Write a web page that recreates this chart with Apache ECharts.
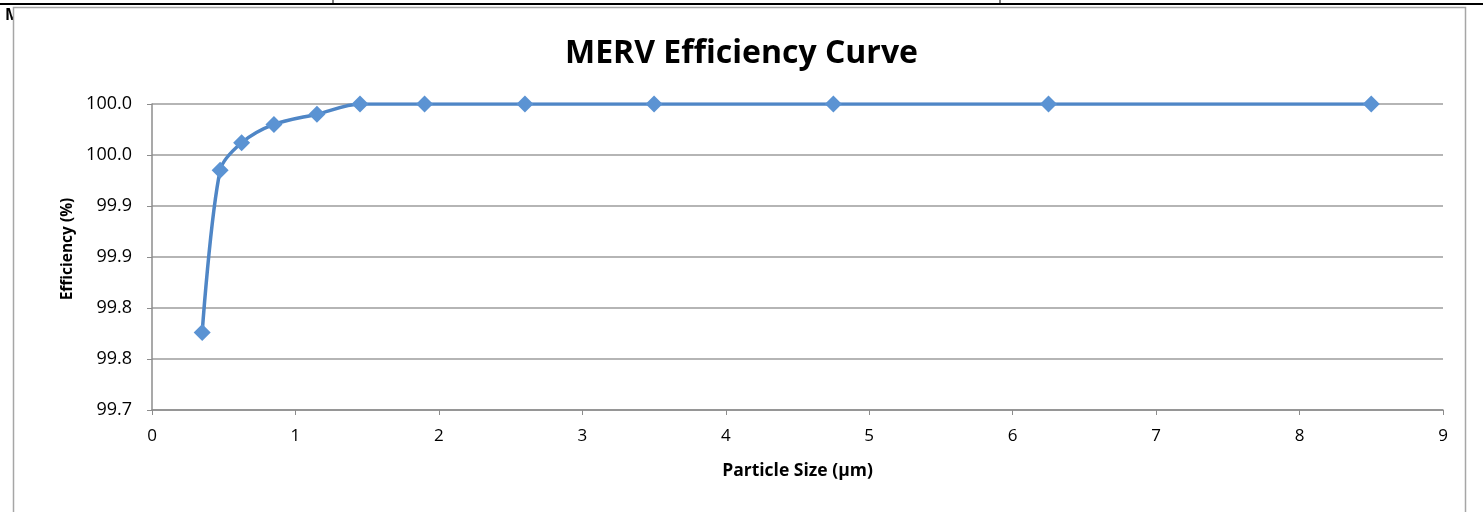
<!DOCTYPE html>
<html>
<head>
<meta charset="utf-8">
<script src="https://cdn.jsdelivr.net/npm/echarts@6/dist/echarts.min.js"></script>
<style>
  html, body { margin: 0; padding: 0; background: #fff; }
  #chart { width: 1483px; height: 512px; }
</style>
</head>
<body>
<div id="chart"></div>
<script>
// particle size range midpoints (µm) and efficiency (%)
const sizes = [0.35, 0.475, 0.625, 0.85, 1.15, 1.45, 1.9, 2.6, 3.5, 4.75, 6.25, 8.5];
const efficiency = [99.776, 99.935, 99.962, 99.98, 99.99, 100, 100, 100, 100, 100, 100, 100];
const xTicks = [0, 9, 1];          // min, max, interval
const yTicks = [99.7, 100.0, 0.05];

const points = sizes.map((s, i) => [s, efficiency[i]]);

const chart = echarts.init(document.getElementById('chart'));
const font = '"Open Sans", "DejaVu Sans", sans-serif';

chart.setOption({
  animation: false,
  backgroundColor: '#fff',
  graphic: [
    // spreadsheet leftovers behind the chart frame
    { type: 'text', left: 5, top: 7, z: -3, style: { text: 'M', font: 'bold 16px ' + font, fill: '#000' } },
    { type: 'line', z: -3, shape: { x1: 0, y1: 4, x2: 1483, y2: 4 }, style: { stroke: '#000', lineWidth: 2 } },
    { type: 'line', z: -3, shape: { x1: 333, y1: 0, x2: 333, y2: 5 }, style: { stroke: '#000', lineWidth: 1 } },
    { type: 'line', z: -3, shape: { x1: 1000, y1: 0, x2: 1000, y2: 5 }, style: { stroke: '#000', lineWidth: 1 } },
    { type: 'rect', z: -2, shape: { x: 13.5, y: 7.5, width: 1452, height: 520 },
      style: { fill: '#fff', stroke: '#a6a6a6', lineWidth: 1.5 } }
  ],
  title: {
    text: 'MERV Efficiency Curve',
    left: 'center',
    top: 33,
    textStyle: { fontFamily: font, fontSize: 32, fontWeight: 'bold', color: '#000' }
  },
  grid: { left: 152, right: 40, top: 104, bottom: 102 },
  xAxis: {
    type: 'value',
    min: xTicks[0], max: xTicks[1], interval: xTicks[2],
    name: 'Particle Size (µm)',
    nameLocation: 'middle',
    nameGap: 52,
    nameTextStyle: { fontFamily: font, fontSize: 17.5, fontWeight: 'bold', color: '#000' },
    axisLine: { lineStyle: { color: '#8c8c8c', width: 1.5 } },
    axisTick: { show: true, length: 5, lineStyle: { color: '#8c8c8c' } },
    axisLabel: { fontFamily: font, fontSize: 17, color: '#000', margin: 18 },
    splitLine: { show: false }
  },
  yAxis: {
    type: 'value',
    min: yTicks[0], max: yTicks[1], interval: yTicks[2],
    name: 'Efficiency (%)',
    nameLocation: 'middle',
    nameRotate: 90,
    nameGap: 74,
    nameTextStyle: { fontFamily: font, fontSize: 15.5, fontWeight: 'bold', color: '#000', padding: [0, 0, 0, 16] },
    axisLine: { show: true, lineStyle: { color: '#8c8c8c', width: 1.5 } },
    axisTick: { show: true, length: 5, lineStyle: { color: '#8c8c8c' } },
    axisLabel: {
      fontFamily: font, fontSize: 18, color: '#000', margin: 20,
      formatter: v => (v + 1e-9).toFixed(1)
    },
    splitLine: { lineStyle: { color: '#9c9c9c', width: 1.5 } }
  },
  series: [{
    type: 'line',
    data: points,
    smooth: 0.3,
    symbol: 'diamond',
    symbolSize: 17,
    lineStyle: { color: '#4f86c6', width: 3.5 },
    itemStyle: { color: '#5b93d3' }
  }]
});
</script>
</body>
</html>
